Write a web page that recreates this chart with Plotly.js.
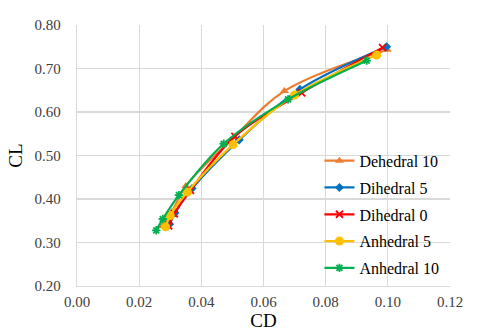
<!DOCTYPE html>
<html>
<head>
<meta charset="utf-8">
<script src="https://cdn.plot.ly/plotly-3.0.1.min.js"></script>
<style>
  html, body { margin: 0; padding: 0; background: #fff; }
  #chart { width: 480px; height: 332px; }
</style>
</head>
<body>
<div id="chart"></div>
<script>
// CL vs CD for each dihedral angle
const seriesNames = ['Dehedral 10', 'Dihedral 5', 'Dihedral 0', 'Anhedral 5', 'Anhedral 10'];

const cdDeh10 = [0.0275, 0.0305, 0.0350, 0.0505, 0.0667, 0.0998];
const clDeh10 = [0.338, 0.370, 0.430, 0.542, 0.648, 0.743];

const cdDih5 = [0.0298, 0.0315, 0.0370, 0.0522, 0.0717, 0.0996];
const clDih5 = [0.342, 0.368, 0.424, 0.536, 0.652, 0.750];

const cdDih0 = [0.0295, 0.0313, 0.0365, 0.0508, 0.0723, 0.0983];
const clDih0 = [0.338, 0.366, 0.420, 0.544, 0.644, 0.748];

const cdAnh5 = [0.0285, 0.0300, 0.0355, 0.0502, 0.0700, 0.0964];
const clAnh5 = [0.336, 0.362, 0.416, 0.525, 0.639, 0.731];

const cdAnh10 = [0.0255, 0.0276, 0.0328, 0.0472, 0.0679, 0.0932];
const clAnh10 = [0.328, 0.354, 0.409, 0.527, 0.629, 0.718];

const colors = ['#ED7D31', '#0070C0', '#FF0000', '#FFC000', '#00B050'];
const symbols = ['triangle-up', 'diamond', 'x-thin-open', 'circle', 'asterisk-open'];
const sizes = [8, 7, 7, 9, 7];

const xs = [cdDeh10, cdDih5, cdDih0, cdAnh5, cdAnh10];
const ys = [clDeh10, clDih5, clDih0, clAnh5, clAnh10];

let data = seriesNames.map((name, i) => ({
  x: xs[i],
  y: ys[i],
  name: name,
  legendgroup: 'g' + i,
  mode: 'lines+markers',
  line: { color: colors[i], width: 2.25, shape: 'spline', smoothing: 1 },
  marker: {
    symbol: symbols[i],
    size: sizes[i],
    color: colors[i],
    line: { color: colors[i], width: (i === 2 || i === 4) ? 1.8 : 0 }
  }
}));

const serif = 'Liberation Serif';

let layout = {
  width: 480,
  height: 332,
  margin: { l: 77, r: 30, t: 25, b: 46, pad: 0 },
  paper_bgcolor: '#fff',
  plot_bgcolor: '#fff',
  font: { family: serif, color: '#404040', size: 14 },
  showlegend: true,
  legend: {
    x: 0.65, y: 0.545, xanchor: 'left', yanchor: 'top',
    bgcolor: 'rgba(0,0,0,0)',
    font: { family: serif, size: 16, color: '#000' },
    tracegroupgap: 3,
    itemwidth: 30
  },
  xaxis: {
    range: [0, 0.12],
    dtick: 0.02,
    tickformat: '.2f',
    showgrid: true,
    gridcolor: '#d9d9d9',
    gridwidth: 1.2,
    zeroline: false,
    showline: true,
    linecolor: '#d9d9d9',
    linewidth: 1.2,
    ticks: 'outside',
    ticklen: 2,
    tickcolor: 'rgba(0,0,0,0)',
    tickfont: { family: serif, size: 15, color: '#404040' },
    title: { text: 'CD', font: { family: serif, size: 19, color: '#000' }, standoff: 0 }
  },
  yaxis: {
    range: [0.2, 0.8],
    dtick: 0.1,
    tickformat: '.2f',
    showgrid: true,
    gridcolor: '#d9d9d9',
    gridwidth: 1.2,
    zeroline: false,
    showline: true,
    linecolor: '#d9d9d9',
    linewidth: 1.2,
    ticks: 'outside',
    ticklen: 12,
    tickcolor: 'rgba(0,0,0,0)',
    tickfont: { family: serif, size: 15, color: '#404040' },
    title: { text: 'CL', font: { family: serif, size: 19, color: '#000' }, standoff: 6 }
  }
};

Plotly.newPlot('chart', data, layout, { staticPlot: true, displayModeBar: false });
</script>
</body>
</html>
